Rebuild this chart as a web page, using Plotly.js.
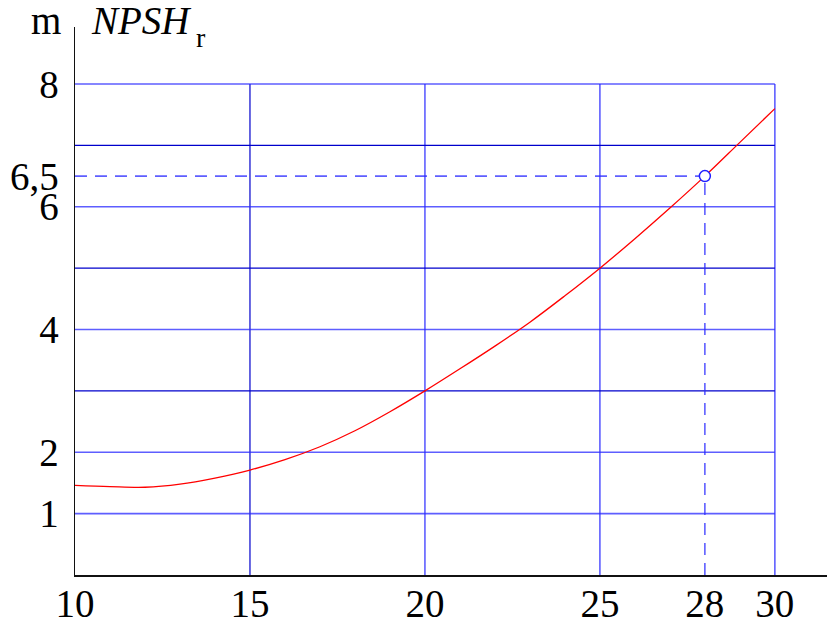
<!DOCTYPE html>
<html>
<head>
<meta charset="utf-8">
<script src="https://cdn.plot.ly/plotly-3.0.1.min.js"></script>
<style>
  html, body { margin: 0; padding: 0; background: #fff; }
  #chart { width: 834px; height: 626px; }
</style>
</head>
<body>
<div id="chart"></div>
<script>
// Required net positive suction head of the pump versus flow rate
const flowRate = [10, 11, 12, 13, 14, 15, 16, 17, 18, 19, 20, 21, 22, 23, 24, 25, 26, 27, 28, 29, 30];
const npshr    = [1.46, 1.44, 1.43, 1.48, 1.58, 1.71, 1.88, 2.09, 2.35, 2.66, 3.00, 3.36, 3.73, 4.12, 4.55, 5.00, 5.48, 5.98, 6.50, 7.05, 7.60];

// Operating point
const dutyFlow = [28];
const dutyNpsh = [6.5];

// Axis ticks
const xTickVals = [10, 15, 20, 25, 28, 30];
const xTickText = ['10', '15', '20', '25', '28', '30'];
const yTickVals = [1, 2, 4, 6, 6.5, 8];
const yTickText = ['1', '2', '4', '6', '6,5', '8'];

// Grid lines
const gridX = [15, 20, 25, 30];
const gridY = [1, 2, 3, 4, 5, 6, 7, 8];

const xMin = 10, xMax = 31.49, yMin = 0, yMax = 8.93;
const gridXEnd = 30, gridYEnd = 8;

const LIGHT = 'rgba(40,40,255,0.75)';
const DARK = '#0000cc';
const darkX = new Set([15]);
const darkY = new Set([3, 5, 7]);

const shapes = [];
gridX.forEach(v => shapes.push({
  type: 'line', xref: 'x', yref: 'y', layer: 'below',
  x0: v, x1: v, y0: yMin, y1: gridYEnd,
  line: { color: darkX.has(v) ? DARK : LIGHT, width: darkX.has(v) ? 1.2 : 1.6 }
}));
gridY.forEach(v => shapes.push({
  type: 'line', xref: 'x', yref: 'y', layer: 'below',
  x0: xMin, x1: gridXEnd, y0: v, y1: v,
  line: { color: darkY.has(v) ? DARK : LIGHT, width: darkY.has(v) ? 1.2 : 1.6 }
}));
// Dashed guides to the operating point
shapes.push({
  type: 'line', xref: 'x', yref: 'y', layer: 'below',
  x0: xMin, x1: dutyFlow[0], y0: dutyNpsh[0], y1: dutyNpsh[0],
  line: { color: LIGHT, width: 1.6, dash: '12px,8px' }
});
shapes.push({
  type: 'line', xref: 'x', yref: 'y', layer: 'below',
  x0: dutyFlow[0], x1: dutyFlow[0], y0: yMin, y1: dutyNpsh[0],
  line: { color: LIGHT, width: 1.6, dash: '12px,8px' }
});

const serif = 'Liberation Serif, Times New Roman, serif';
const tickSize = 39;

const traces = [
  {
    x: flowRate, y: npshr, type: 'scatter', mode: 'lines',
    line: { color: '#ff0000', width: 1.3, shape: 'spline', smoothing: 1 },
    hoverinfo: 'skip'
  },
  {
    x: dutyFlow, y: dutyNpsh, type: 'scatter', mode: 'markers',
    marker: { size: 11, color: '#ffffff', line: { color: '#2020ff', width: 1.5 } },
    hoverinfo: 'skip'
  }
];

const layout = {
  width: 834, height: 626,
  margin: { l: 75, r: 7, t: 27, b: 51 },
  paper_bgcolor: '#ffffff', plot_bgcolor: '#ffffff',
  showlegend: false,
  font: { family: serif, color: '#000', size: tickSize },
  xaxis: {
    range: [xMin, xMax], showgrid: false, zeroline: false,
    showline: true, linecolor: '#111', linewidth: 1.5,
    tickmode: 'array', tickvals: xTickVals, ticktext: xTickText,
    ticks: '', ticklabelstandoff: -6,
    tickfont: { family: serif, size: tickSize, color: '#000' }
  },
  yaxis: {
    range: [yMin, yMax], showgrid: false, zeroline: false,
    showline: true, linecolor: '#111', linewidth: 1.5,
    tickmode: 'array', tickvals: yTickVals, ticktext: yTickText,
    ticks: '', ticklabelstandoff: 7,
    tickfont: { family: serif, size: tickSize, color: '#000' }
  },
  shapes: shapes,
  annotations: [
    { xref: 'paper', yref: 'paper', x: -0.016, y: 1.0, xanchor: 'right', yanchor: 'bottom',
      yshift: -17, text: 'm', showarrow: false, font: { family: serif, size: 39, color: '#000' } },
    { xref: 'paper', yref: 'paper', x: 0.018, y: 1.0, xanchor: 'left', yanchor: 'bottom',
      yshift: -17, text: '<i>NPSH</i>', showarrow: false, font: { family: serif, size: 39, color: '#000' } },
    { xref: 'paper', yref: 'paper', x: 0.158, y: 1.0, xanchor: 'left', yanchor: 'bottom',
      yshift: -28, text: 'r', showarrow: false, font: { family: serif, size: 28, color: '#000' } }
  ]
};

Plotly.newPlot('chart', traces, layout, { staticPlot: true, displayModeBar: false });
</script>
</body>
</html>
